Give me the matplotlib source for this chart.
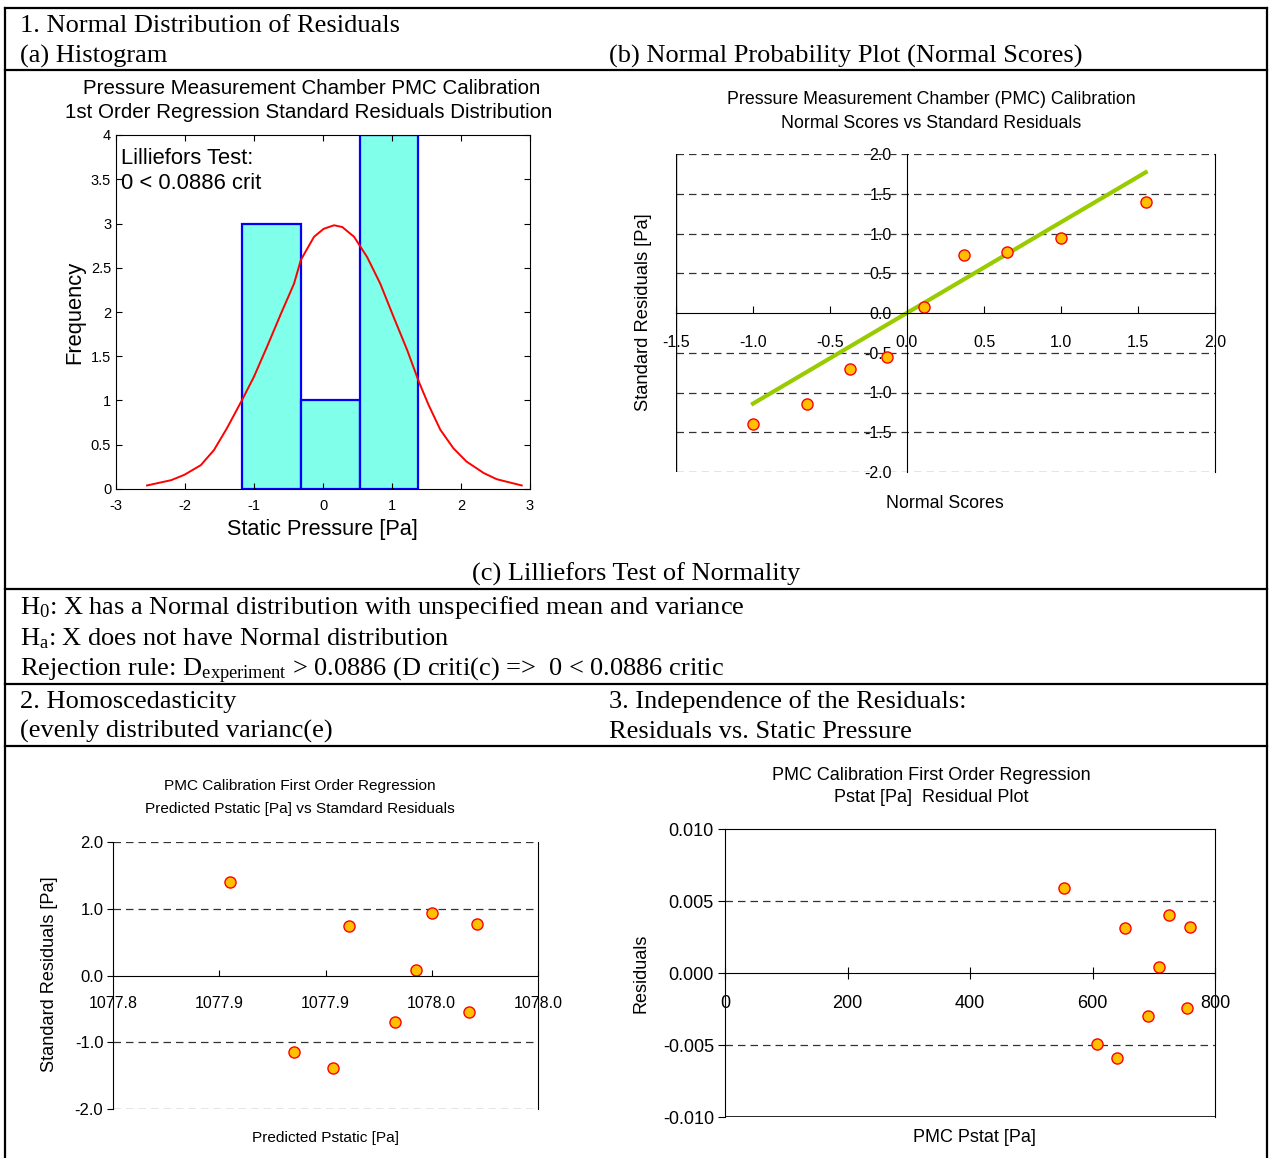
import matplotlib
matplotlib.use('Agg')
import matplotlib.pyplot as plt
from matplotlib import font_manager
from matplotlib.lines import Line2D
from matplotlib.ticker import FuncFormatter

# page size in pixels
W, H = 1271, 1158

plt.rcParams['axes.unicode_minus'] = False
plt.rcParams['mathtext.fontset'] = 'custom'
plt.rcParams['mathtext.rm'] = 'Liberation Serif'
plt.rcParams['mathtext.it'] = 'Liberation Serif:italic'

SERIF = 'Liberation Serif'
SANS = 'Liberation Sans'
names = {f.name for f in font_manager.fontManager.ttflist}
NARROW = 'Liberation Sans Narrow' if 'Liberation Sans Narrow' in names else SANS

# (a) histogram of standard residuals
hist_edges = [-1.17, -0.32, 0.53, 1.38]
hist_counts = [3, 1, 4]
# fitted normal curve
curve_x = [-2.55, -2.20, -2.01, -1.77, -1.58, -1.39, -1.17, -1.00, -0.81, -0.61,
           -0.42, -0.32, -0.13, 0.01, 0.16, 0.28, 0.45, 0.64, 0.83, 1.02,
           1.22, 1.39, 1.53, 1.70, 1.89, 2.08, 2.33, 2.52, 2.88]
curve_y = [0.04, 0.10, 0.16, 0.27, 0.44, 0.69, 1.01, 1.27, 1.61, 1.98,
           2.32, 2.59, 2.85, 2.94, 2.98, 2.96, 2.85, 2.62, 2.32, 1.95,
           1.57, 1.21, 0.95, 0.67, 0.46, 0.31, 0.18, 0.11, 0.04]

# (b) normal probability plot
normal_scores = [-1.0, -0.65, -0.37, -0.13, 0.11, 0.37, 0.65, 1.0, 1.55]
std_resid = [-1.39, -1.14, -0.71, -0.55, 0.08, 0.73, 0.77, 0.94, 1.39]
fit_x = [-1.0, 1.55]
fit_y = [-1.14, 1.77]

# 2. predicted pstatic vs standard residuals
pred_pstatic = [1077.884, 1077.908, 1077.923, 1077.929, 1077.946,
                1077.954, 1077.960, 1077.974, 1077.977]
pred_resid = [1.40, -1.15, -1.39, 0.74, -0.70, 0.08, 0.94, -0.55, 0.77]
pred_ticks = [1077.84, 1077.88, 1077.92, 1077.96, 1078.00]
pred_ticklabels = ['1077.8', '1077.9', '1077.9', '1078.0', '1078.0']

# 3. residuals vs pstat
pmc_pstat = [553, 607, 640, 653, 691, 709, 725, 754, 759]
pmc_resid = [0.0059, -0.0049, -0.0059, 0.0031, -0.0030, 0.0004, 0.0040, -0.0024, 0.0032]

fig = plt.figure(figsize=(W / 100, H / 100), dpi=100)


def fx(x):
    return x / W


def fy(y):
    return 1 - y / H


def box(l, t, r, b):
    return fig.add_axes([fx(l), fy(b), (r - l) / W, (b - t) / H])


def hline(y, x0=5, x1=1267):
    fig.add_artist(Line2D([fx(x0), fx(x1)], [fy(y), fy(y)], color='black', lw=1.6))


def vline(x, y0=8, y1=1158):
    fig.add_artist(Line2D([fx(x), fx(x)], [fy(y0), fy(y1)], color='black', lw=1.6))


def serif(x, y, s, **kw):
    fig.text(fx(x), fy(y), s, family=SERIF, fontsize=19, va='baseline', **kw)


def sans(x, y, s, size=12, family=SANS, **kw):
    fig.text(fx(x), fy(y), s, family=family, fontsize=size, ha='center', va='center', **kw)


# table frame
for y in [8, 70, 589, 684, 746]:
    hline(y)
vline(5)
vline(1267)

serif(20, 32, '1. Normal Distribution of Residuals')
serif(20, 63, '(a) Histogram')
serif(609, 63, '(b) Normal Probability Plot (Normal Scores)')
serif(636, 581, '(c) Lilliefors Test of Normality', ha='center')
serif(20, 614, 'H$_0$: X has a Normal distribution with unspecified mean and variance')
serif(20, 645, 'H$_\\mathrm{a}$: X does not have Normal distribution')
serif(20, 676, 'Rejection rule: D$_\\mathrm{experiment}$ > 0.0886 (D criti(c) =>  0 < 0.0886 critic')
serif(20, 708, '2. Homoscedasticity')
serif(20, 738, '(evenly distributed varianc(e)')
serif(609, 708, '3. Independence of the Residuals:')
serif(609, 738, 'Residuals vs. Static Pressure')

dash = (0, (6, 4))
mk = dict(marker='o', ls='none', ms=8, mfc='#FFC000', mec='#FF0000', mew=1)

# (a) histogram
ax = box(116, 135, 530, 489)
ax.bar(hist_edges[:-1], hist_counts,
       width=[b - a for a, b in zip(hist_edges[:-1], hist_edges[1:])],
       align='edge', color='#80FFEA', edgecolor='#0000FF', lw=1.6)
ax.plot(curve_x, curve_y, color='#FF0000', lw=1.4)
ax.set_xlim(-3, 3)
ax.set_ylim(0, 4)
ax.set_xticks(range(-3, 4))
ax.set_yticks([i * 0.5 for i in range(9)])
ax.xaxis.set_major_formatter(FuncFormatter(lambda v, p: '%g' % v))
ax.yaxis.set_major_formatter(FuncFormatter(lambda v, p: '%g' % v))
ax.tick_params(direction='in', top=True, right=True, length=4, labelsize=10.5,
               labelfontfamily=SANS)
ax.tick_params(axis='x', pad=7)
ax.text(-2.93, 3.74, 'Lilliefors Test:', family=SANS, fontsize=15.8, va='center')
ax.text(-2.93, 3.45, '0 < 0.0886 crit', family=SANS, fontsize=15.8, va='center')
sans(312, 88, 'Pressure Measurement Chamber PMC Calibration', size=14.8)
sans(309, 112, '1st Order Regression Standard Residuals Distribution', size=14.8)
sans(75, 312, 'Frequency', size=15.8, rotation=90)
sans(322, 530, 'Static Pressure [Pa]', size=15.6)

# (b) normal probability plot
ax = box(676, 154, 1215, 472)
for v in [-1.5, -1.0, -0.5, 0.5, 1.0, 1.5, -2.0, 2.0]:
    ax.axhline(v, color='#333333', lw=0.9, ls=dash)
ax.axvline(-1.5, color='black', lw=1)
ax.plot(fit_x, fit_y, color='#99CC00', lw=3)
ax.plot(normal_scores, std_resid, **mk)
ax.set_xlim(-1.5, 2.0)
ax.set_ylim(-2.0, 2.0)
ax.spines['left'].set_position(('data', 0))
ax.spines['bottom'].set_position(('data', 0))
ax.spines['top'].set_visible(False)
ax.set_xticks([-1.5 + 0.5 * i for i in range(8)])
ax.set_yticks([-2.0 + 0.5 * i for i in range(9)])
ax.xaxis.set_major_formatter(FuncFormatter(lambda v, p: '%.1f' % v))
ax.yaxis.set_major_formatter(FuncFormatter(lambda v, p: '%.1f' % v))
ax.tick_params(axis='x', direction='in', length=5, pad=16, labelsize=11.5,
               labelfontfamily=SANS)
ax.tick_params(axis='y', length=0, pad=11, labelsize=11.5, labelfontfamily=SANS)
sans(931, 100, 'Pressure Measurement Chamber (PMC) Calibration', size=12.8)
sans(931, 123, 'Normal Scores vs Standard Residuals', size=12.8)
sans(643, 312, 'Standard Residuals [Pa]', size=13.2, rotation=90)
sans(945, 503, 'Normal Scores', size=12.8)

# 2. homoscedasticity
ax = box(113, 842, 538, 1109)
for v in [-1.0, 1.0, -2.0, 2.0]:
    ax.axhline(v, color='#333333', lw=0.9, ls=dash)
ax.plot(pred_pstatic, pred_resid, **mk)
ax.set_xlim(pred_ticks[0], pred_ticks[-1])
ax.set_ylim(-2.0, 2.0)
ax.spines['bottom'].set_position(('data', 0))
ax.spines['top'].set_visible(False)
ax.set_xticks(pred_ticks)
ax.set_xticklabels(pred_ticklabels)
ax.set_yticks([-2.0, -1.0, 0.0, 1.0, 2.0])
ax.yaxis.set_major_formatter(FuncFormatter(lambda v, p: '%.1f' % v))
ax.tick_params(axis='x', direction='in', length=4, pad=15, labelsize=11.5,
               labelfontfamily=NARROW)
ax.tick_params(axis='y', direction='out', length=4, pad=3, labelsize=12,
               labelfontfamily=SANS)
sans(300, 786, 'PMC Calibration First Order Regression', size=11.1, family=NARROW)
sans(300, 809, 'Predicted Pstatic [Pa] vs Stamdard Residuals', size=11.1, family=NARROW)
sans(50, 974, 'Standard Residuals [Pa]', size=13.1, rotation=90)
sans(326, 1138, 'Predicted Pstatic [Pa]', size=11.1, family=NARROW)

# 3. independence of residuals
ax = box(725, 829, 1215, 1117)
for v in [-0.005, 0.005]:
    ax.axhline(v, color='#333333', lw=0.9, ls=dash)
ax.axhline(-0.01, color='black', lw=1.2)
ax.plot(pmc_pstat, pmc_resid, **mk)
ax.set_xlim(0, 800)
ax.set_ylim(-0.010, 0.010)
ax.spines['bottom'].set_position(('data', 0))
ax.set_xticks([0, 200, 400, 600, 800])
ax.set_yticks([-0.010, -0.005, 0.0, 0.005, 0.010])
ax.yaxis.set_major_formatter(FuncFormatter(lambda v, p: '%.3f' % v))
ax.tick_params(axis='x', direction='inout', length=9, pad=11, labelsize=13,
               labelfontfamily=SANS)
ax.tick_params(axis='y', direction='out', length=5, pad=3, labelsize=13,
               labelfontfamily=SANS)
sans(931, 775, 'PMC Calibration First Order Regression', size=13)
sans(931, 798, 'Pstat [Pa]  Residual Plot', size=13)
sans(641, 973, 'Residuals', size=13, rotation=90)
sans(974, 1138, 'PMC Pstat [Pa]', size=13)

fig.savefig('out.png', dpi=100)
